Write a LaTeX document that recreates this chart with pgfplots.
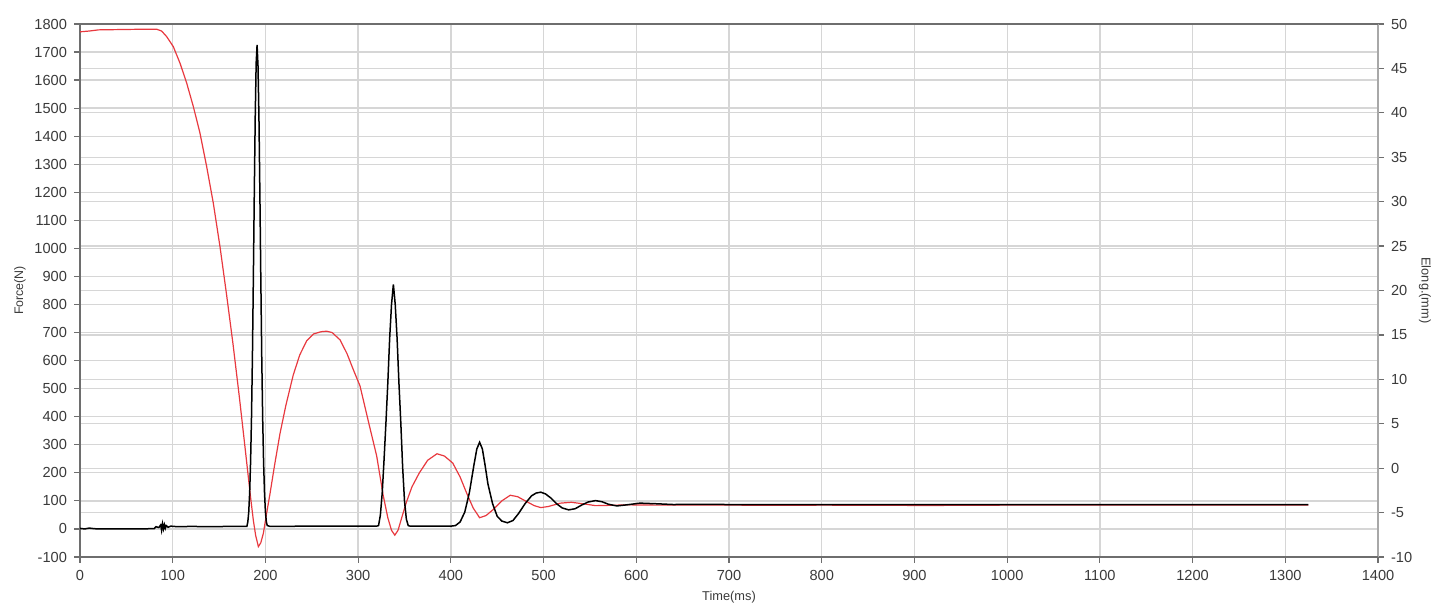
\documentclass[border=0pt]{standalone}
\usepackage{pgfplots}
\pgfplotsset{compat=1.18}
\usepackage{fontspec}
\setmainfont{Liberation Sans}
\definecolor{gridc}{HTML}{D6D6D6}
\definecolor{axc}{HTML}{6E6E6E}
\definecolor{axr}{HTML}{A8A8A8}
\definecolor{txt}{HTML}{3A3A3A}
\definecolor{redc}{HTML}{E8393F}
\begin{document}
\begin{tikzpicture}
\pgfplotsset{
 common/.style={
  set layers, scale only axis, width=649pt, height=266.5pt,
  at={(0pt,0pt)}, anchor=south west,
  xmin=0, xmax=1400,
  tick align=outside, major tick length=3pt,
  tick style={draw=axc, line width=0.6pt},
  ticklabel style={font=\fontsize{7.3}{8}\selectfont, text=txt},
  /pgf/number format/assume math mode=true,
  /pgf/number format/1000 sep={},
  major grid style={draw=gridc, line width=0.65pt},
  clip=true,
 }
}
% right axis: elongation (red)
\begin{axis}[common,
  axis x line=none, axis y line*=right,
  y axis line style={draw=axr, line width=0.8pt},
  ymin=-10, ymax=50, ytick={-10,-5,...,50}, ymajorgrids,
  every axis y label/.style={at={(rel axis cs:1,0.5)}, anchor=center, xshift=23.5pt, rotate=-90,
    font=\fontsize{6.4}{7}\selectfont, text=txt},
  ylabel={Elong.(mm)},
]
\addplot[redc, line width=0.6pt] coordinates {
(0,49.12) (10,49.21) (20,49.34) (40,49.37) (60,49.40) (83,49.40) (88,49.21)
(93.5,48.58) (100.7,47.44) (107.9,45.58) (115.1,43.34) (122.2,40.72) (129.4,37.72)
(136.6,33.96) (143.8,29.82) (151,24.93) (158,19.6) (165,14.0) (172,7.9) (179,1.4)
(184,-3.3) (187,-5.9) (189.5,-7.6) (192.4,-8.83) (195,-8.4) (197.8,-7.32) (201,-5.26)
(205,-2.83) (210,0.42) (215.7,3.89) (222,7.05) (230,10.49) (237,12.74) (244.4,14.32)
(252,15.11) (260,15.36) (266,15.42) (272,15.26) (280.5,14.44) (288,12.89) (294.9,11.06)
(302,9.26) (312,4.84) (320,1.37) (327,-3.05) (332,-5.58) (336,-7.00) (339.5,-7.54)
(343,-7.00) (347,-5.58) (352,-3.84) (358,-2.11) (366,-0.53) (375,0.89) (385,1.62)
(393,1.37) (402,0.58) (410,-1.00) (417,-2.80) (424,-4.47) (431,-5.58) (438,-5.33)
(446,-4.63) (455,-3.68) (464,-3.05) (472,-3.21) (482,-3.78) (490,-4.22) (497,-4.44)
(505,-4.32) (518,-3.94) (530,-3.84) (546,-4.06) (556,-4.22) (570,-4.19) (590,-4.13)
(620,-4.16) (700,-4.16) (770,-4.18) (800,-4.16) (915,-4.20) (1000,-4.16) (1200,-4.16) (1325,-4.16)
};
\end{axis}
% left axis: force (black)
\begin{axis}[common,
  axis x line*=box, axis y line*=left,
  axis line style={draw=axc, line width=0.8pt},
  xtick={0,100,...,1400}, xtick pos=bottom,
  ymin=-100, ymax=1800, ytick={-100,0,...,1800},
  xmajorgrids, ymajorgrids,
  every axis y label/.style={at={(rel axis cs:0,0.5)}, anchor=center, xshift=-30pt, rotate=90,
    font=\fontsize{6.2}{7}\selectfont, text=txt},
  every axis x label/.style={at={(rel axis cs:0.5,0)}, anchor=center, yshift=-20pt,
    font=\fontsize{6.4}{7}\selectfont, text=txt},
  xlabel={Time(ms)}, ylabel={Force(N)},
]
\addplot[black, line width=0.75pt] coordinates {
(0,2) (5,0) (10,3) (15,1) (20,0) (40,0) (60,0) (80,1) (82,8) (85,5) (87,14) (88,-5)
(89,18) (90,0) (91,15) (92,2) (93,12) (95,6) (98,10) (105,8) (120,9) (140,8) (160,9) (180,9)
(181,25) (182,60) (183,130) (184,240) (185,400) (186,620) (187,900) (188,1200) (189,1470)
(190,1660) (191,1725) (192,1650) (193,1470) (194,1200) (195,900) (196,620) (197,400)
(198,240) (199,130) (200,60) (201,25) (202,12) (205,9) (250,10) (300,10) (320,10)
(322,12) (324,50) (326,130) (328,250) (330,380) (332,520) (334,680) (336,800) (338,872)
(340,800) (342,680) (344,520) (346,380) (348,220) (350,100) (352,35) (354,12) (356,10)
(380,10) (400,10) (405,12) (410,25) (415,60) (420,130) (425,230) (428,285) (431,309)
(434,285) (437,225) (440,160) (445,90) (450,45) (455,28) (461,22) (467,30) (473,55)
(480,90) (487,118) (492,128) (497,131) (502,125) (508,110) (514,90) (520,75) (527,68)
(534,72) (541,85) (548,96) (556,101) (563,97) (570,88) (579,82) (590,86) (604,92)
(620,90) (640,87) (660,88) (700,87) (800,87) (900,87) (1000,87) (1100,87) (1200,87) (1325,87)
};
\end{axis}
\pgfresetboundingbox
\path[use as bounding box] (-40pt,-25.5pt) rectangle (682.5pt,278.5pt);
\end{tikzpicture}
\end{document}
